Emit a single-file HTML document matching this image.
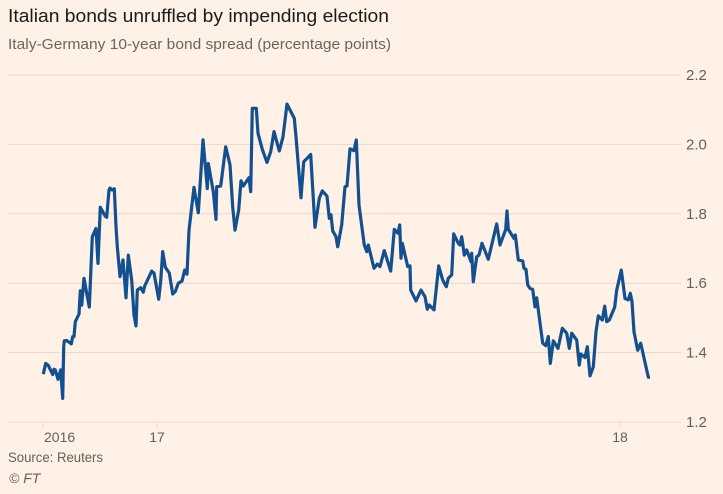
<!DOCTYPE html>
<html lang="en">
<head>
<meta charset="utf-8">
<title>Italian bonds unruffled by impending election</title>
<style>
html,body{margin:0;padding:0;background:#fff1e5;}
body{width:723px;height:494px;overflow:hidden;font-family:"Liberation Sans",sans-serif;}
svg{display:block;}
</style>
</head>
<body>
<svg id="chart" width="723" height="494" viewBox="0 0 723 494" xmlns="http://www.w3.org/2000/svg">
  <rect x="0" y="0" width="723" height="494" fill="#fff1e5"/>
  <text x="8" y="22" font-size="18" fill="#1d1b19" textLength="381" lengthAdjust="spacingAndGlyphs">Italian bonds unruffled by impending election</text>
  <text x="8" y="49" font-size="15" fill="#6b6560" textLength="383" lengthAdjust="spacingAndGlyphs">Italy-Germany 10-year bond spread (percentage points)</text>
  <g id="y-axis"></g>
  <g id="x-axis"></g>
  <path id="line" fill="none" stroke="#13508f" stroke-width="3.2" stroke-linejoin="round" stroke-linecap="butt"/>
  <text x="8" y="462" font-size="14" fill="#66605b" textLength="95" lengthAdjust="spacingAndGlyphs">Source: Reuters</text>
  <text x="9" y="483" font-size="14" font-style="italic" fill="#66605b">© FT</text>
</svg>
<script>
const yTicks = [1.2, 1.4, 1.6, 1.8, 2.0, 2.2];
const xTicks = [0, 114, 577];
const xTickLabels = ["2016", "17", "18"];
const sessions = [
  0.3,2.7,5.3,9.7,11,12.3,15,17.7,19.7,20.7,
  21.3,23.7,28.3,29.7,31,32.3,36,37.3,38.7,41,
  43.7,46.3,49.3,53,55,57.3,62,63.7,66,67,
  69,71.3,73,74.3,77,80,83,85.3,88.7,91,
  93,94.3,97.7,100.3,101.7,108.7,111,115.7,117.7,119.7,
  122.3,126.3,129.7,132.3,135.3,139,141.7,144,146,151,
  155.3,160,164.3,165.3,170.3,173,173.7,177.7,182.7,187,
  189.7,192,195.7,198,200.3,206,207.7,209.3,213.3,215,
  219.3,224,227.7,231,236.3,240,244,251.3,253,258,
  260.7,267.7,272,276.3,279.3,284,286.3,288,289.7,293,
  294.7,298.7,302,304,307,311,313.3,316,321.3,323.7,
  325.3,331,334.3,337,341.3,347.7,351.3,355,356.7,358,
  359.3,364.7,367,367.7,373,378,382,384.3,386.3,391,
  395.7,399.7,403.3,405.3,408.7,410.7,415.3,417,418.7,421.3,
  423.7,428,428.7,430.3,433.7,436,439,445.3,453.7,457,
  462.7,464,465.3,471,472.3,475.3,479.7,481,483,484.7,
  487,489.7,492,493.7,499.7,502.7,505.3,507.3,510.3,515,
  519.3,523.7,526.3,528.7,533.7,536.3,537.7,542,544.3,547,
  550.3,553,555.3,559.3,561.7,563.7,566.3,571.7,573.7,578.3,
  582,585.3,587.3,589,591,594.7,597.7,605.3,607
];
const spread = [
  1.338,1.369,1.363,1.337,1.352,1.350,1.323,1.350,1.268,1.417,
  1.434,1.435,1.425,1.446,1.446,1.489,1.511,1.578,1.537,1.614,
  1.571,1.531,1.734,1.758,1.657,1.819,1.794,1.790,1.869,1.874,
  1.869,1.872,1.763,1.705,1.619,1.667,1.558,1.681,1.609,1.508,
  1.477,1.580,1.587,1.574,1.592,1.635,1.629,1.554,1.606,1.691,
  1.646,1.629,1.569,1.576,1.600,1.606,1.638,1.626,1.753,1.876,
  1.803,2.013,1.873,1.945,1.864,1.784,1.878,1.880,1.993,1.941,
  1.820,1.753,1.811,1.895,1.880,1.904,1.864,2.104,2.104,2.032,
  1.986,1.948,1.979,2.037,1.981,2.022,2.116,2.075,2.022,1.846,
  1.950,1.971,1.761,1.845,1.866,1.851,1.787,1.797,1.751,1.734,
  1.705,1.768,1.878,1.880,1.987,1.982,2.013,1.825,1.710,1.691,
  1.710,1.643,1.655,1.648,1.694,1.635,1.755,1.744,1.768,1.672,
  1.715,1.648,1.650,1.580,1.549,1.580,1.561,1.525,1.537,1.523,
  1.650,1.609,1.590,1.614,1.624,1.742,1.715,1.710,1.734,1.681,
  1.696,1.662,1.686,1.604,1.676,1.681,1.715,1.669,1.771,1.710,
  1.755,1.808,1.755,1.729,1.739,1.667,1.664,1.643,1.640,1.595,
  1.585,1.582,1.532,1.558,1.427,1.420,1.446,1.369,1.434,1.412,
  1.470,1.456,1.412,1.456,1.436,1.364,1.396,1.386,1.417,1.333,
  1.359,1.460,1.506,1.494,1.534,1.489,1.494,1.531,1.580,1.638,
  1.556,1.552,1.571,1.547,1.460,1.407,1.427,1.329,1.329
];

const NS = "http://www.w3.org/2000/svg";
function xScale(s) { return 43 + s; }
function yScale(v) { return 422 - (v - 1.2) * 347; }

const yAxis = document.getElementById("y-axis");
yTicks.forEach(function (t) {
  const y = yScale(t);
  const grid = document.createElementNS(NS, "line");
  
  
  grid.setAttribute("x1", 8);
  grid.setAttribute("x2", 681);
  grid.setAttribute("y1", y);
  grid.setAttribute("y2", y);
  grid.setAttribute("stroke", "#e8d9cc");
  grid.setAttribute("stroke-width", 1);
  yAxis.appendChild(grid);
  const label = document.createElementNS(NS, "text");
  
  
  label.setAttribute("x", 686);
  label.setAttribute("y", y + 5);
  label.setAttribute("font-size", 15);
  label.setAttribute("fill", "#66605b");
  label.textContent = t.toFixed(1);
  yAxis.appendChild(label);
});

const xAxis = document.getElementById("x-axis");
xTicks.forEach(function (t, i) {
  const x = xScale(t);
  const tick = document.createElementNS(NS, "line");
  
  
  tick.setAttribute("x1", x);
  tick.setAttribute("x2", x);
  tick.setAttribute("y1", 422);
  tick.setAttribute("y2", 427);
  tick.setAttribute("stroke", "#e8d9cc");
  xAxis.appendChild(tick);
  const label = document.createElementNS(NS, "text");
  
  
  label.setAttribute("x", i === 0 ? x + 1 : x);
  label.setAttribute("y", 442);
  label.setAttribute("font-size", 14);
  label.setAttribute("fill", "#66605b");
  label.setAttribute("text-anchor", i === 0 ? "start" : "middle");
  label.textContent = xTickLabels[i];
  xAxis.appendChild(label);
});

document.getElementById("line").setAttribute("d", spread.map(function (v, i) {
  return (i ? "L" : "M") + xScale(sessions[i]).toFixed(1) + " " + yScale(v).toFixed(1);
}).join(" "));
</script>
</body>
</html>
